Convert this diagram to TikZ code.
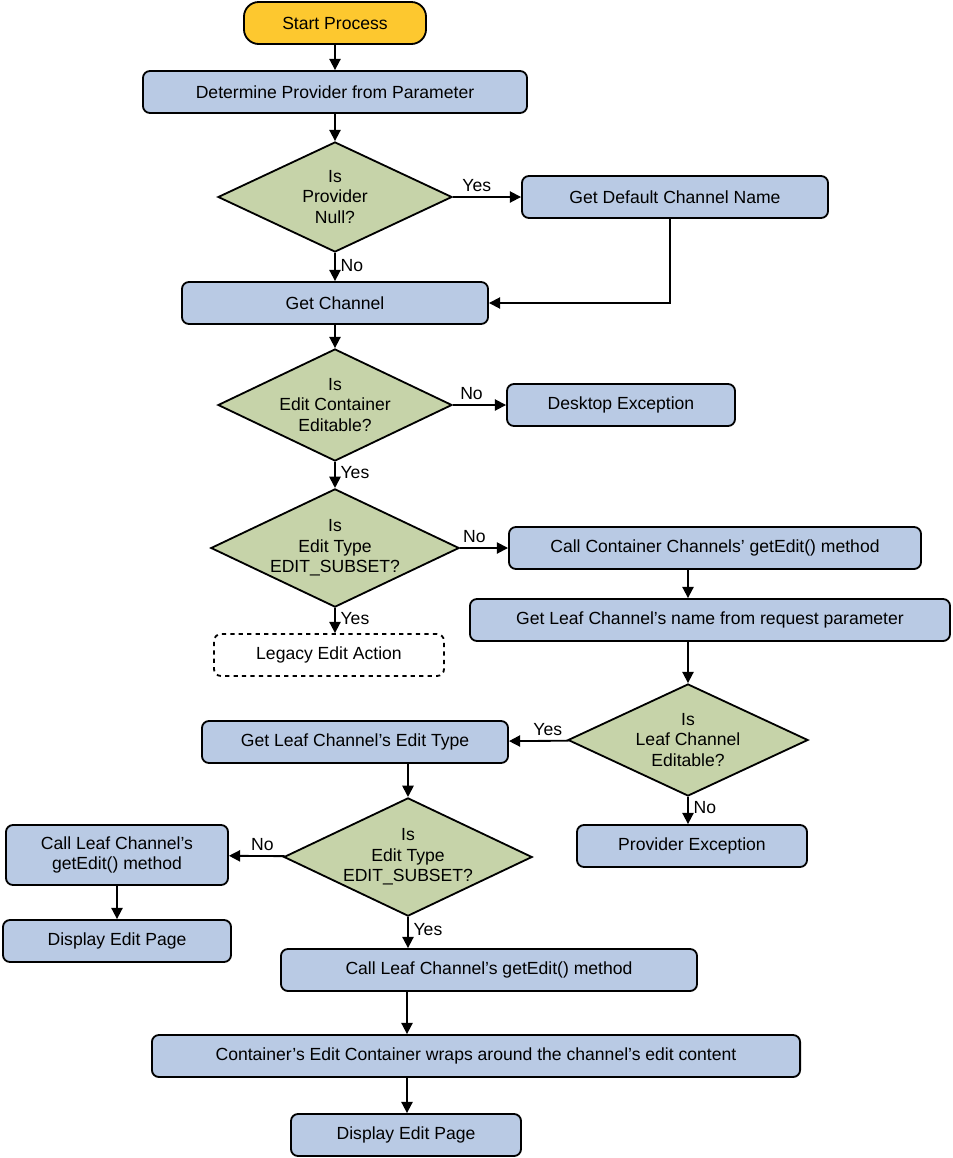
\documentclass[tikz,border=0pt]{standalone}
\usepackage{fontspec}
\setmainfont{Liberation Sans}
\usetikzlibrary{shapes.geometric,arrows.meta}
\definecolor{boxblue}{HTML}{B9CAE4}
\definecolor{dgreen}{HTML}{C6D3A9}
\definecolor{startyel}{HTML}{FDC82F}
\begin{document}
\begin{tikzpicture}[
    x=0.025cm, y=-0.025cm,
    every node/.style={font=\fontsize{12.5}{14.5}\selectfont},
    box/.style={rectangle, rounded corners=5pt, draw, line width=1.3pt, fill=boxblue, minimum height=1.05cm, align=center, inner sep=2pt},
    dec/.style={diamond, aspect=2.1, draw, line width=1.3pt, fill=dgreen, align=center, inner sep=0pt},
    arrow/.style={-{Triangle[length=8pt,width=8pt]}, line width=1.3pt},
    lbl/.style={font=\fontsize{12.5}{14.5}\selectfont}
]
    \useasboundingbox (0,0) rectangle (953,1158);

    % top part
    \node[box, fill=startyel, rounded corners=10.5pt, minimum width=4.55cm] (start) at (335,23) {Start Process};
    \node[box, minimum width=9.6cm] (provider) at (335,92) {Determine Provider from Parameter};
    \node[dec, minimum width=5.85cm, minimum height=2.75cm] (isnull) at (335,197) {Is\\Provider\\Null?};
    \node[box, minimum width=7.65cm] (defname) at (675,197) {Get Default Channel Name};
    \node[box, minimum width=7.65cm] (getchan) at (335,303) {Get Channel};
    \node[dec, minimum width=5.85cm, minimum height=2.8cm] (editable) at (335,405) {Is\\Edit Container\\Editable?};
    \node[box, minimum width=5.7cm] (deskexc) at (621,405) {Desktop Exception};
    \node[dec, minimum width=5.85cm, minimum height=2.8cm] (subset1) at (335,548) {Is\\Edit Type\\EDIT\_SUBSET?};
    \node[box, fill=none, dashed, minimum width=5.75cm] (legacy) at (329,655) {Legacy Edit Action};
    \node[box, minimum width=10.3cm] (callcont) at (715,548) {Call Container Channels’ getEdit() method};
    \node[box, minimum width=12cm] (leafname) at (710,620) {Get Leaf Channel’s name from request parameter};
    \node[dec, minimum width=6cm, minimum height=2.8cm] (leafedit) at (688,740) {Is\\Leaf Channel\\Editable?};
    \node[box, minimum width=7.65cm] (edittype) at (355,742) {Get Leaf Channel’s Edit Type};
    \node[box, minimum width=5.75cm] (provexc) at (692,846) {Provider Exception};

    % bottom part
    \node[dec, minimum width=5.9cm, minimum height=2.8cm] (subset2) at (408,857) {Is\\Edit Type\\EDIT\_SUBSET?};
    \node[box, minimum width=5.55cm, minimum height=1.5cm] (callleaf1) at (117,855) {Call Leaf Channel’s\\getEdit() method};
    \node[box, minimum width=5.7cm] (display1) at (117,941) {Display Edit Page};
    \node[box, minimum width=10.4cm] (callleaf2) at (489,970) {Call Leaf Channel’s getEdit() method};
    \node[box, minimum width=16.2cm] (wraps) at (476,1056) {Container’s Edit Container wraps around the channel’s edit content};
    \node[box, minimum width=5.75cm] (display2) at (406,1135) {Display Edit Page};

    \draw[arrow] (start) -- (provider);
    \draw[arrow] (provider) -- (isnull);
    \draw[arrow] (isnull) -- node[lbl, above, pos=0.35] {Yes} (defname);
    \draw[arrow] (isnull) -- node[lbl, right, pos=0.45] {No} (getchan);
    \draw[arrow] (defname.south -| 670,0) |- (getchan);
    \draw[arrow] (getchan) -- (editable);
    \draw[arrow] (editable) -- node[lbl, above, pos=0.35] {No} (deskexc);
    \draw[arrow] (editable) -- node[lbl, right, pos=0.4] {Yes} (subset1);
    \draw[arrow] (subset1) -- node[lbl, above, pos=0.3] {No} (callcont);
    \draw[arrow] (subset1.south) -- node[lbl, right, pos=0.4] {Yes} (subset1.south |- legacy.north);
    \draw[arrow] (callcont.south -| 688,0) -- (leafname.north -| 688,0);
    \draw[arrow] (leafname.south -| 688,0) -- (leafedit);
    \draw[arrow] (leafedit) -- node[lbl, above, pos=0.35] {Yes} (edittype);
    \draw[arrow] (leafedit.south) -- node[lbl, right, pos=0.4] {No} (leafedit.south |- provexc.north);
    \draw[arrow] (edittype.south -| subset2) -- (subset2);
    \draw[arrow] (subset2) -- node[lbl, above, pos=0.4] {No} (callleaf1);
    \draw[arrow] (callleaf1) -- (display1);
    \draw[arrow] (subset2.south) -- node[lbl, right, pos=0.4] {Yes} (subset2.south |- callleaf2.north);
    \draw[arrow] (callleaf2.south -| 407,0) -- (wraps.north -| 407,0);
    \draw[arrow] (wraps.south -| 407,0) -- (display2.north -| 407,0);
\end{tikzpicture}
\end{document}
